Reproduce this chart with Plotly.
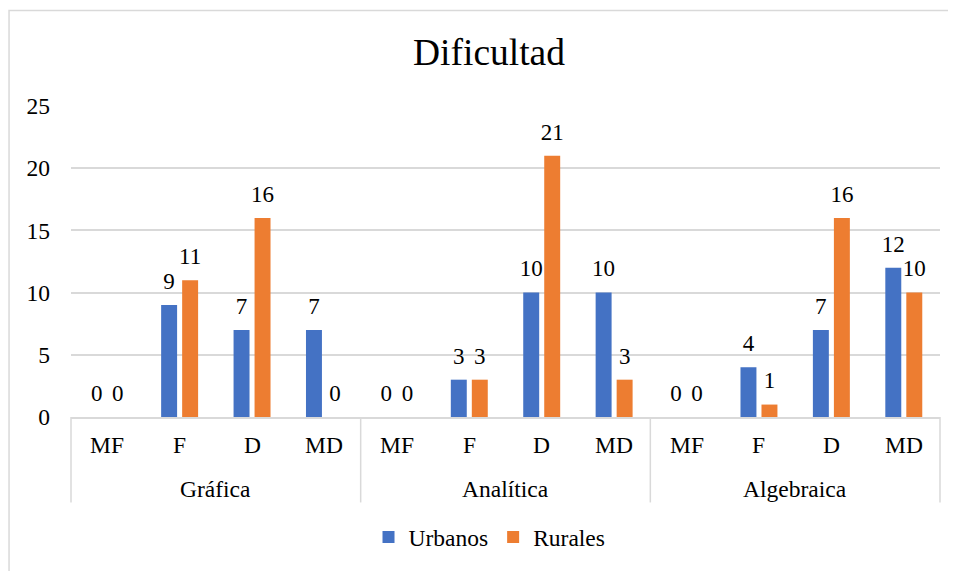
import plotly.graph_objects as go

# chart data
groups = ["Gráfica", "Analítica", "Algebraica"]
levels = ["MF", "F", "D", "MD"]
urbanos = [0, 9, 7, 7, 0, 3, 10, 10, 0, 4, 7, 12]
rurales = [0, 11, 16, 0, 0, 3, 21, 3, 0, 1, 16, 10]
y_ticks = [0, 5, 10, 15, 20, 25]

FONT = "Liberation Serif"
BLUE = "#4472C4"
ORANGE = "#ED7D31"
GRID = "#d9d9d9"
PLOT_H = 313  # px height of the plot area
GAP = 0.42

x_outer = [g for g in groups for _ in levels]
x_inner = [lv for _ in groups for lv in levels]

fig = go.Figure()
series = [("Urbanos", urbanos, BLUE), ("Rurales", rurales, ORANGE)]
for name, vals, color in series:
    fig.add_trace(go.Bar(
        x=[x_outer, x_inner], y=vals, name=name,
        marker=dict(color=color, line=dict(width=0)),
        cliponaxis=False,
    ))
# value labels: grouped scatter text so they sit a bit higher above the bars
for name, vals, color in series:
    fig.add_trace(go.Scatter(
        x=[x_outer, x_inner], y=vals, mode="markers+text",
        text=[str(v) for v in vals], textposition="top center",
        textfont=dict(family=FONT, size=23, color="#000000"),
        marker=dict(size=15, opacity=0, color=color),
        showlegend=False, hoverinfo="skip", cliponaxis=False,
    ))

# Excel-like category labels under the axis
n_cat = len(x_inner)
for i, lv in enumerate(x_inner):
    fig.add_annotation(text=lv, xref="paper", yref="paper",
                       x=(i + 0.5) / n_cat, y=-28 / PLOT_H,
                       xanchor="center", yanchor="middle", showarrow=False,
                       font=dict(family=FONT, size=23.5, color="#000000"))
for j, g in enumerate(groups):
    fig.add_annotation(text=g, xref="paper", yref="paper",
                       x=(j + 0.5) / len(groups), y=-72 / PLOT_H,
                       xanchor="center", yanchor="middle", showarrow=False,
                       font=dict(family=FONT, size=23.5, color="#000000"))
for j in range(len(groups) + 1):
    xd = j / len(groups)
    fig.add_shape(type="line", xref="paper", yref="paper",
                  x0=xd, x1=xd, y0=0, y1=-86 / PLOT_H,
                  line=dict(color=GRID, width=1.5))

# light chart border like the Excel frame
fig.add_shape(type="rect", xref="paper", yref="paper",
              x0=-0.0713, x1=1.06, y0=-0.55, y1=1.3067,
              line=dict(color=GRID, width=1.5), fillcolor="rgba(0,0,0,0)",
              layer="below")

fig.update_layout(
    width=948, height=563,
    margin=dict(l=63, r=16, t=98, b=152),
    paper_bgcolor="white", plot_bgcolor="white",
    title=dict(text="Dificultad", x=0.5074, xanchor="center", y=0.922, yanchor="middle",
               font=dict(family=FONT, size=37.5, color="#000000")),
    barmode="group", bargap=GAP, bargroupgap=0.24,
    scattermode="group", scattergap=GAP,
    font=dict(family=FONT, size=23, color="#000000"),
    showlegend=True,
    legend=dict(orientation="h", x=0.4816, xanchor="center", y=-121 / PLOT_H, yanchor="middle",
                font=dict(family=FONT, size=23.5, color="#000000"),
                itemwidth=30, traceorder="normal"),
    xaxis=dict(type="multicategory", showline=True, linecolor=GRID, linewidth=1.5,
               showticklabels=False, showdividers=False,
               showgrid=False, ticks=""),
    yaxis=dict(range=[0, 25], tickvals=y_ticks, showgrid=True, gridcolor=GRID,
               gridwidth=1.5, zeroline=False, showline=False, ticks="",
               ticklabelstandoff=20,
               tickfont=dict(family=FONT, size=23.5, color="#000000")),
)

fig.write_html("out.html")
